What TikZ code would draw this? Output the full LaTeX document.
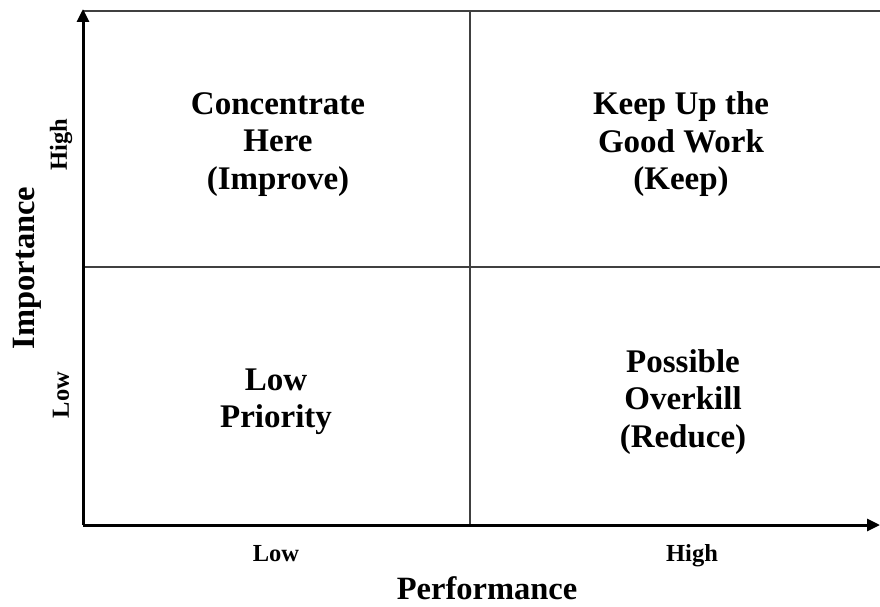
\documentclass[tikz,border=0pt]{standalone}
\usepackage{fontspec}
\setmainfont{Liberation Serif}
\usetikzlibrary{arrows.meta}
\tikzset{
  axis/.style={line width=3pt, -{Triangle[length=13pt,width=12pt]}},
  grid/.style={line width=1.4pt, draw=black!75},
  quad/.style={font=\bfseries\fontsize{33}{37.5}\selectfont, align=center},
  tick/.style={font=\bfseries\fontsize{24.5}{28}\selectfont},
  title/.style={font=\bfseries\fontsize{32.5}{38}\selectfont}
}
\begin{document}
\begin{tikzpicture}[x=1pt,y=-1pt]
\useasboundingbox (0,0) rectangle (880,607);
\coordinate (O) at (83,525);
\coordinate (Ytop) at (83,9);
\coordinate (Xend) at (880,525);
\coordinate (TL) at (83,11);
\coordinate (TR) at (880,11);
\coordinate (MT) at (470,11);
\coordinate (MB) at (470,525);
\coordinate (ML) at (83,267);
\coordinate (MR) at (880,267);
\draw[grid] (TL) -- (TR);
\draw[grid] (MT) -- (MB);
\draw[grid] (ML) -- (MR);
\draw[axis] (O) -- (Ytop);
\draw[axis] (O) -- (Xend);
\node[quad] (q1) at (278,144.5) {Concentrate\\Here\\(Improve)};
\node[quad] (q2) at (681,144.5) {Keep Up the\\Good Work\\(Keep)};
\node[quad] (q3) at (276,402) {Low\\Priority};
\node[quad] (q4) at (683,402) {Possible\\Overkill\\(Reduce)};
\node[tick, anchor=base] (xl) at (276,561) {Low};
\node[tick, anchor=base] (xh) at (692,561) {High};
\node[tick, rotate=90] (yh) at (61,145) {High};
\node[tick, rotate=90] (yl) at (61,395) {Low};
\node[title] (xt) at (487,588) {Performance};
\node[title, rotate=90] (yt) at (27,268) {Importance};
\end{tikzpicture}
\end{document}
